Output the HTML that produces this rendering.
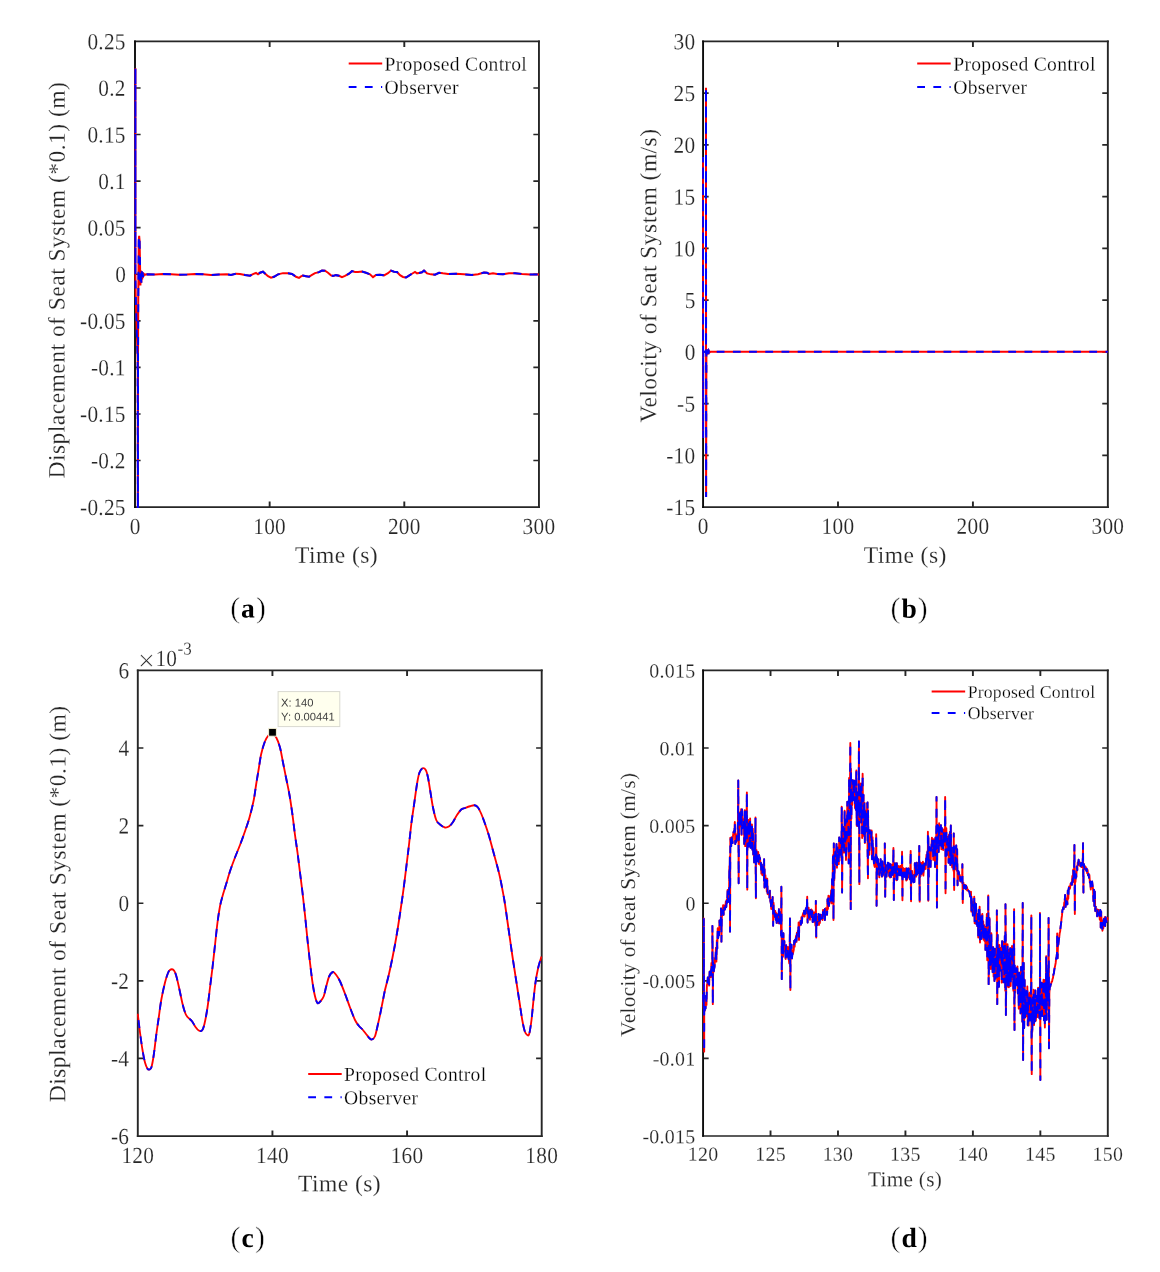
<!DOCTYPE html>
<html><head><meta charset="utf-8"><title>Figure</title>
<style>html,body{margin:0;padding:0;background:#fff;}body{width:1160px;height:1272px;overflow:hidden;font-family:"Liberation Serif", serif;}svg{display:block;}</style>
</head><body>
<svg width="1160" height="1272" viewBox="0 0 1160 1272" font-family='"Liberation Serif", serif' style="will-change:transform" text-rendering="geometricPrecision">
<rect width="1160" height="1272" fill="#fff"/>
<defs>
<clipPath id="ca"><rect x="134.1" y="40.5" width="405.75" height="467.5"/></clipPath>
<clipPath id="cb"><rect x="702.17" y="40.5" width="406.58" height="467.45"/></clipPath>
<clipPath id="cc"><rect x="136.9" y="669.5" width="405.7" height="467.45"/></clipPath>
<clipPath id="cd"><rect x="702.17" y="669.5" width="406.53" height="467.43"/></clipPath>
</defs>
<g stroke="#262626" fill="none" stroke-linecap="butt">
<path d="M134.05 41.4H539.9M134.05 507.1H539.9M135 460.53h5.6M538.95 460.53h-5.6M135 413.96h5.6M538.95 413.96h-5.6M135 367.39h5.6M538.95 367.39h-5.6M135 320.82h5.6M538.95 320.82h-5.6M135 274.25h5.6M538.95 274.25h-5.6M135 227.68h5.6M538.95 227.68h-5.6M135 181.11h5.6M538.95 181.11h-5.6M135 134.54h5.6M538.95 134.54h-5.6M135 87.97h5.6M538.95 87.97h-5.6" stroke-width="1.65"/>
<path d="M538.95 40.57V507.93M269.65 507.1v-5.6M269.65 41.4v5.6M404.3 507.1v-5.6M404.3 41.4v5.6" stroke-width="1.9"/>
<path d="M135 40.57V507.93" stroke="#0c0c0c" stroke-width="1.9"/>
</g>
<g clip-path="url(#ca)" fill="none" stroke-width="2" stroke-linejoin="miter">
<path d="M135.4 274.25L135.4 68.3L135.4 274.25L135.8 300L137.7 360L137.9 540.95L138 360L138.25 300L138.75 241L139.15 235.8L139.6 241L140.4 285.5L140.9 270.5L141.3 282.7L141.8 271.3L142.2 279.5L142.6 272.3L143 277.2L143.3 273L143.8 275.5L144.5 274.3L145.2 274.6L147 274.35L155 274.55L163 274.05L171 274.35L179 274.85L187 274.55L195 273.95L203 274.25L211 275.05L219 274.55L227 274.25L231 274.95L236 273.65L240 273.95L245 275.05L250 275.75L253 274.15L256 272.95L258 274.35L260 272.75L263 271.75L265 273.55L268 276.15L271 277.75L274 276.75L278 274.35L283 273.15L288 273.25L292 273.95L296 276.75L299 277.95L301 276.35L303 275.55L306 276.15L309 276.75L312 274.95L315 273.15L319 272.15L322 270.55L325 270.75L328 272.75L331 275.35L333 275.95L336 275.15L339 275.75L342 277.15L345 275.95L349 273.75L352 271.15L355 271.95L358 271.95L362 271.55L366 272.75L370 274.35L373 277.15L376 274.95L380 274.75L384 275.35L388 273.15L391 270.55L394 271.75L397 271.95L400 275.15L403 276.95L406 277.55L409 275.55L412 273.75L415 271.95L417 273.35L419 272.95L422 272.35L424 270.55L427 273.35L431 274.35L435 274.75L439 272.75L443 273.35L448 273.95L456 273.75L464 274.35L472 274.95L478 274.15L484 272.55L487 272.75L489 273.95L493 273.35L497 273.95L503 274.35L509 273.35L515 273.15L522 273.95L530 274.55L538 274.45L539 274.55" stroke="#ff0000"/>
<path d="M135.4 274.25L135.4 68.3L135.4 274.25L135.8 300L137.7 360L137.9 540.95L138 360L138.25 300L138.75 241L139.15 235.8L139.6 241L140.4 285.5L140.9 270.5L141.3 282.7L141.8 271.3L142.2 279.5L142.6 272.3L143 277.2L143.3 273L143.8 275.5L144.5 274.3L145.2 274.6L147 274.35L155 274.55L163 274.05L171 274.35L179 274.85L187 274.55L195 273.95L203 274.25L211 275.05L219 274.55L227 274.25L231 274.95L236 273.65L240 273.95L245 275.05L250 275.75L253 274.15L256 272.95L258 274.35L260 272.75L263 271.75L265 273.55L268 276.15L271 277.75L274 276.75L278 274.35L283 273.15L288 273.25L292 273.95L296 276.75L299 277.95L301 276.35L303 275.55L306 276.15L309 276.75L312 274.95L315 273.15L319 272.15L322 270.55L325 270.75L328 272.75L331 275.35L333 275.95L336 275.15L339 275.75L342 277.15L345 275.95L349 273.75L352 271.15L355 271.95L358 271.95L362 271.55L366 272.75L370 274.35L373 277.15L376 274.95L380 274.75L384 275.35L388 273.15L391 270.55L394 271.75L397 271.95L400 275.15L403 276.95L406 277.55L409 275.55L412 273.75L415 271.95L417 273.35L419 272.95L422 272.35L424 270.55L427 273.35L431 274.35L435 274.75L439 272.75L443 273.35L448 273.95L456 273.75L464 274.35L472 274.95L478 274.15L484 272.55L487 272.75L489 273.95L493 273.35L497 273.95L503 274.35L509 273.35L515 273.15L522 273.95L530 274.55L538 274.45L539 274.55" stroke="#0000ff" stroke-dasharray="8 8.3" stroke-dashoffset="5.55"/>
</g>
<text font-size="21.3" text-anchor="end" fill="#262626" transform="translate(125.8 49.25) rotate(0.03) scale(1 1.08)" letter-spacing="0.28" stroke="#fff" stroke-width="0.16">0.25</text>
<text font-size="21.3" text-anchor="end" fill="#262626" transform="translate(125.8 95.82) rotate(0.03) scale(1 1.08)" letter-spacing="0.28" stroke="#fff" stroke-width="0.16">0.2</text>
<text font-size="21.3" text-anchor="end" fill="#262626" transform="translate(125.8 142.39) rotate(0.03) scale(1 1.08)" letter-spacing="0.28" stroke="#fff" stroke-width="0.16">0.15</text>
<text font-size="21.3" text-anchor="end" fill="#262626" transform="translate(125.8 188.96) rotate(0.03) scale(1 1.08)" letter-spacing="0.28" stroke="#fff" stroke-width="0.16">0.1</text>
<text font-size="21.3" text-anchor="end" fill="#262626" transform="translate(125.8 235.53) rotate(0.03) scale(1 1.08)" letter-spacing="0.28" stroke="#fff" stroke-width="0.16">0.05</text>
<text font-size="21.3" text-anchor="end" fill="#262626" transform="translate(125.8 282.1) rotate(0.03) scale(1 1.08)" stroke="#fff" stroke-width="0.16">0</text>
<text font-size="21.3" text-anchor="end" fill="#262626" transform="translate(125.8 328.67) rotate(0.03) scale(1 1.08)" letter-spacing="0.28" stroke="#fff" stroke-width="0.16">-0.05</text>
<text font-size="21.3" text-anchor="end" fill="#262626" transform="translate(125.8 375.24) rotate(0.03) scale(1 1.08)" letter-spacing="0.28" stroke="#fff" stroke-width="0.16">-0.1</text>
<text font-size="21.3" text-anchor="end" fill="#262626" transform="translate(125.8 421.81) rotate(0.03) scale(1 1.08)" letter-spacing="0.28" stroke="#fff" stroke-width="0.16">-0.15</text>
<text font-size="21.3" text-anchor="end" fill="#262626" transform="translate(125.8 468.38) rotate(0.03) scale(1 1.08)" letter-spacing="0.28" stroke="#fff" stroke-width="0.16">-0.2</text>
<text font-size="21.3" text-anchor="end" fill="#262626" transform="translate(125.8 514.95) rotate(0.03) scale(1 1.08)" letter-spacing="0.28" stroke="#fff" stroke-width="0.16">-0.25</text>
<text font-size="21.3" text-anchor="middle" fill="#262626" transform="translate(135 533.9) rotate(0.03) scale(1 1.08)" stroke="#fff" stroke-width="0.16">0</text>
<text font-size="21.3" text-anchor="middle" fill="#262626" transform="translate(269.65 533.9) rotate(0.03) scale(1 1.08)" letter-spacing="0.28" stroke="#fff" stroke-width="0.16">100</text>
<text font-size="21.3" text-anchor="middle" fill="#262626" transform="translate(404.3 533.9) rotate(0.03) scale(1 1.08)" letter-spacing="0.28" stroke="#fff" stroke-width="0.16">200</text>
<text font-size="21.3" text-anchor="middle" fill="#262626" transform="translate(538.95 533.9) rotate(0.03) scale(1 1.08)" letter-spacing="0.28" stroke="#fff" stroke-width="0.16">300</text>
<text font-size="23.5" text-anchor="middle" fill="#262626" transform="translate(336.3 562.65) rotate(0.03)" textLength="82.7" lengthAdjust="spacing" stroke="#fff" stroke-width="0.16">Time (s)</text>
<text font-size="23.5" text-anchor="middle" fill="#262626" transform="translate(64.6 280.3) rotate(-89.97)" textLength="396.4" lengthAdjust="spacing" stroke="#fff" stroke-width="0.16">Displacement of Seat System (*0.1) (m)</text>
<path d="M348.7 63.6h33.5" stroke="#ff0000" stroke-width="2" fill="none"/>
<path d="M348.7 86.9h33.5" stroke="#0000ff" stroke-width="2" fill="none" stroke-dasharray="7.8 8.35"/>
<text font-size="19.6" text-anchor="start" fill="#000" transform="translate(384.6 70.4) rotate(0.03)" textLength="142.2" lengthAdjust="spacing" stroke="#fff" stroke-width="0.22">Proposed Control</text>
<text font-size="19.6" text-anchor="start" fill="#000" transform="translate(384.6 93.7) rotate(0.03)" textLength="73.9" lengthAdjust="spacing" stroke="#fff" stroke-width="0.22">Observer</text>
<text transform="translate(248 617.5) rotate(0.03)" font-size="27.6" text-anchor="middle" fill="#000"><tspan font-size="29.7" stroke="#fff" stroke-width="0.5">(</tspan><tspan font-weight="bold" dx="1.1">a</tspan><tspan font-size="29.7" stroke="#fff" stroke-width="0.5" dx="1.1">)</tspan></text>
<g stroke="#262626" fill="none" stroke-linecap="butt">
<path d="M702.12 41.4H1108.8M702.12 507.05H1108.8M703.07 455.31h5.6M1107.85 455.31h-5.6M703.07 403.57h5.6M1107.85 403.57h-5.6M703.07 351.83h5.6M1107.85 351.83h-5.6M703.07 300.09h5.6M1107.85 300.09h-5.6M703.07 248.36h5.6M1107.85 248.36h-5.6M703.07 196.62h5.6M1107.85 196.62h-5.6M703.07 144.88h5.6M1107.85 144.88h-5.6M703.07 93.14h5.6M1107.85 93.14h-5.6" stroke-width="1.65"/>
<path d="M1107.85 40.57V507.88M838 507.05v-5.6M838 41.4v5.6M972.92 507.05v-5.6M972.92 41.4v5.6" stroke-width="1.9"/>
<path d="M703.07 40.57V507.88" stroke="#0c0c0c" stroke-width="1.9"/>
</g>
<g clip-path="url(#cb)" fill="none" stroke-width="2" stroke-linejoin="miter">
<path d="M703 351.83L703 157L703.05 351.83L705.42 351.83L703.05 351.83L703.1 438.1L703.2 351.83L706.43 351.83L706 351.83L706 87.7L706.05 351.83L707.7 351.83L706.05 351.83L706.1 497.1L706.4 351.83L706.9 349.4L707.4 354.7L707.9 350.3L708.4 354L708.9 351L709.5 352.3L710.5 351.83L1107.85 351.83" stroke="#ff0000"/>
<path d="M703 351.83L703 157L703.05 351.83L705.42 351.83L703.05 351.83L703.1 438.1L703.2 351.83L706.43 351.83L706 351.83L706 87.7L706.05 351.83L707.7 351.83L706.05 351.83L706.1 497.1L706.4 351.83L706.9 349.4L707.4 354.7L707.9 350.3L708.4 354L708.9 351L709.5 352.3L710.5 351.83L1107.85 351.83" stroke="#0000ff" stroke-dasharray="7.8 8.4" stroke-dashoffset="5.16"/>
</g>
<text font-size="21.3" text-anchor="end" fill="#262626" transform="translate(695.37 514.9) rotate(0.03) scale(1 1.08)" letter-spacing="0.28" stroke="#fff" stroke-width="0.16">-15</text>
<text font-size="21.3" text-anchor="end" fill="#262626" transform="translate(695.37 463.16) rotate(0.03) scale(1 1.08)" letter-spacing="0.28" stroke="#fff" stroke-width="0.16">-10</text>
<text font-size="21.3" text-anchor="end" fill="#262626" transform="translate(695.37 411.42) rotate(0.03) scale(1 1.08)" letter-spacing="0.28" stroke="#fff" stroke-width="0.16">-5</text>
<text font-size="21.3" text-anchor="end" fill="#262626" transform="translate(695.37 359.68) rotate(0.03) scale(1 1.08)" stroke="#fff" stroke-width="0.16">0</text>
<text font-size="21.3" text-anchor="end" fill="#262626" transform="translate(695.37 307.94) rotate(0.03) scale(1 1.08)" stroke="#fff" stroke-width="0.16">5</text>
<text font-size="21.3" text-anchor="end" fill="#262626" transform="translate(695.37 256.21) rotate(0.03) scale(1 1.08)" letter-spacing="0.28" stroke="#fff" stroke-width="0.16">10</text>
<text font-size="21.3" text-anchor="end" fill="#262626" transform="translate(695.37 204.47) rotate(0.03) scale(1 1.08)" letter-spacing="0.28" stroke="#fff" stroke-width="0.16">15</text>
<text font-size="21.3" text-anchor="end" fill="#262626" transform="translate(695.37 152.73) rotate(0.03) scale(1 1.08)" letter-spacing="0.28" stroke="#fff" stroke-width="0.16">20</text>
<text font-size="21.3" text-anchor="end" fill="#262626" transform="translate(695.37 100.99) rotate(0.03) scale(1 1.08)" letter-spacing="0.28" stroke="#fff" stroke-width="0.16">25</text>
<text font-size="21.3" text-anchor="end" fill="#262626" transform="translate(695.37 49.25) rotate(0.03) scale(1 1.08)" letter-spacing="0.28" stroke="#fff" stroke-width="0.16">30</text>
<text font-size="21.3" text-anchor="middle" fill="#262626" transform="translate(703.07 533.85) rotate(0.03) scale(1 1.08)" stroke="#fff" stroke-width="0.16">0</text>
<text font-size="21.3" text-anchor="middle" fill="#262626" transform="translate(838 533.85) rotate(0.03) scale(1 1.08)" letter-spacing="0.28" stroke="#fff" stroke-width="0.16">100</text>
<text font-size="21.3" text-anchor="middle" fill="#262626" transform="translate(972.92 533.85) rotate(0.03) scale(1 1.08)" letter-spacing="0.28" stroke="#fff" stroke-width="0.16">200</text>
<text font-size="21.3" text-anchor="middle" fill="#262626" transform="translate(1107.85 533.85) rotate(0.03) scale(1 1.08)" letter-spacing="0.28" stroke="#fff" stroke-width="0.16">300</text>
<text font-size="23.5" text-anchor="middle" fill="#262626" transform="translate(905 562.65) rotate(0.03)" textLength="82.7" lengthAdjust="spacing" stroke="#fff" stroke-width="0.16">Time (s)</text>
<text font-size="23.5" text-anchor="middle" fill="#262626" transform="translate(656.2 275.7) rotate(-89.97)" textLength="293.5" lengthAdjust="spacing" stroke="#fff" stroke-width="0.16">Velocity of Seat System (m/s)</text>
<path d="M917.2 63.6h33.5" stroke="#ff0000" stroke-width="2" fill="none"/>
<path d="M917.2 86.9h33.5" stroke="#0000ff" stroke-width="2" fill="none" stroke-dasharray="7.8 8.35"/>
<text font-size="19.6" text-anchor="start" fill="#000" transform="translate(953.2 70.4) rotate(0.03)" textLength="142.2" lengthAdjust="spacing" stroke="#fff" stroke-width="0.22">Proposed Control</text>
<text font-size="19.6" text-anchor="start" fill="#000" transform="translate(953.2 93.7) rotate(0.03)" textLength="73.9" lengthAdjust="spacing" stroke="#fff" stroke-width="0.22">Observer</text>
<text transform="translate(909.05 617.7) rotate(0.03)" font-size="27.6" text-anchor="middle" fill="#000"><tspan font-size="29.7" stroke="#fff" stroke-width="0.5">(</tspan><tspan font-weight="bold" dx="1.1">b</tspan><tspan font-size="29.7" stroke="#fff" stroke-width="0.5" dx="1.1">)</tspan></text>
<g stroke="#262626" fill="none" stroke-linecap="butt">
<path d="M136.85 670.4H542.65M136.85 1136.05H542.65M137.8 748.01h5.6M541.7 748.01h-5.6M137.8 825.62h5.6M541.7 825.62h-5.6M137.8 903.22h5.6M541.7 903.22h-5.6M137.8 980.83h5.6M541.7 980.83h-5.6M137.8 1058.44h5.6M541.7 1058.44h-5.6" stroke-width="1.65"/>
<path d="M541.7 669.57V1136.88M137.8 669.57V1136.88M272.43 1136.05v-5.6M272.43 670.4v5.6M407.07 1136.05v-5.6M407.07 670.4v5.6" stroke-width="1.9"/>
</g>
<g clip-path="url(#cc)" fill="none" stroke-width="1.85" stroke-linejoin="round">
<path d="M137.75 1013.75C138.12 1016.88 139.21 1026.46 140 1032.5C140.79 1038.54 141.67 1045 142.5 1050C143.33 1055 144.17 1059.38 145 1062.5C145.83 1065.62 146.75 1067.58 147.5 1068.75C148.25 1069.92 148.83 1069.79 149.5 1069.5C150.17 1069.21 150.79 1069.42 151.5 1067C152.21 1064.58 152.96 1060.33 153.75 1055C154.54 1049.67 155.42 1041.25 156.25 1035C157.08 1028.75 157.92 1023.33 158.75 1017.5C159.58 1011.67 160.21 1005.83 161.25 1000C162.29 994.17 163.88 987 165 982.5C166.12 978 167.17 975.08 168 973C168.83 970.92 169.33 970.62 170 970C170.67 969.38 171.33 969.17 172 969.25C172.67 969.33 173.33 969.54 174 970.5C174.67 971.46 175.21 972.38 176 975C176.79 977.62 177.67 981.46 178.75 986.25C179.83 991.04 181.38 999.17 182.5 1003.75C183.62 1008.33 184.58 1011.46 185.5 1013.75C186.42 1016.04 186.92 1016.25 188 1017.5C189.08 1018.75 190.75 1019.67 192 1021.25C193.25 1022.83 194.38 1025.46 195.5 1027C196.62 1028.54 197.67 1029.92 198.75 1030.5C199.83 1031.08 201.04 1031.62 202 1030.5C202.96 1029.38 203.58 1027.58 204.5 1023.75C205.42 1019.92 206.58 1013.54 207.5 1007.5C208.42 1001.46 209.17 994.17 210 987.5C210.83 980.83 211.67 974.58 212.5 967.5C213.33 960.42 214.17 952.5 215 945C215.83 937.5 216.67 928.96 217.5 922.5C218.33 916.04 219.17 910.62 220 906.25C220.83 901.88 221.46 900 222.5 896.25C223.54 892.5 225 887.92 226.25 883.75C227.5 879.58 228.54 875.62 230 871.25C231.46 866.88 233.33 861.88 235 857.5C236.67 853.12 238.33 849.38 240 845C241.67 840.62 243.42 835.83 245 831.25C246.58 826.67 248.04 822.71 249.5 817.5C250.96 812.29 252.62 805.62 253.75 800C254.88 794.38 255.42 788.96 256.25 783.75C257.08 778.54 257.92 773.75 258.75 768.75C259.58 763.75 260.21 758.33 261.25 753.75C262.29 749.17 263.75 744.38 265 741.25C266.25 738.12 267.58 736.38 268.75 735C269.92 733.62 270.75 732.58 272 733C273.25 733.42 274.92 735.08 276.25 737.5C277.58 739.92 278.88 743.33 280 747.5C281.12 751.67 281.96 757.29 283 762.5C284.04 767.71 285.17 773.33 286.25 778.75C287.33 784.17 288.46 788.96 289.5 795C290.54 801.04 291.58 808.33 292.5 815C293.42 821.67 294.17 828.75 295 835C295.83 841.25 296.67 846.25 297.5 852.5C298.33 858.75 299.17 865.83 300 872.5C300.83 879.17 301.67 885.42 302.5 892.5C303.33 899.58 304.17 907.08 305 915C305.83 922.92 306.67 932.08 307.5 940C308.33 947.92 309.17 955.42 310 962.5C310.83 969.58 311.67 976.88 312.5 982.5C313.33 988.12 314.17 992.83 315 996.25C315.83 999.67 316.58 1002.17 317.5 1003C318.42 1003.83 319.46 1002.38 320.5 1001.25C321.54 1000.12 322.79 998.75 323.75 996.25C324.71 993.75 325.33 989.58 326.25 986.25C327.17 982.92 328.12 978.62 329.25 976.25C330.38 973.88 331.83 972.21 333 972C334.17 971.79 335.08 973.46 336.25 975C337.42 976.54 338.54 978.12 340 981.25C341.46 984.38 343.33 989.38 345 993.75C346.67 998.12 348.33 1003.12 350 1007.5C351.67 1011.88 353.54 1016.96 355 1020C356.46 1023.04 357.5 1024.17 358.75 1025.75C360 1027.33 361.25 1028.08 362.5 1029.5C363.75 1030.92 365.08 1032.79 366.25 1034.25C367.42 1035.71 368.54 1037.38 369.5 1038.25C370.46 1039.12 371.08 1039.83 372 1039.5C372.92 1039.17 374.08 1038.46 375 1036.25C375.92 1034.04 376.67 1029.79 377.5 1026.25C378.33 1022.71 379.17 1018.96 380 1015C380.83 1011.04 381.67 1006.67 382.5 1002.5C383.33 998.33 383.96 994.58 385 990C386.04 985.42 387.5 980.42 388.75 975C390 969.58 391.25 963.75 392.5 957.5C393.75 951.25 395 944.79 396.25 937.5C397.5 930.21 398.75 922.08 400 913.75C401.25 905.42 402.58 896.25 403.75 887.5C404.92 878.75 406.08 868.75 407 861.25C407.92 853.75 408.5 848.96 409.25 842.5C410 836.04 410.71 828.75 411.5 822.5C412.29 816.25 413.04 811.67 414 805C414.96 798.33 416.33 787.92 417.25 782.5C418.17 777.08 418.62 774.88 419.5 772.5C420.38 770.12 421.46 768.67 422.5 768.25C423.54 767.83 424.83 768.46 425.75 770C426.67 771.54 427.21 773.75 428 777.5C428.79 781.25 429.67 787.5 430.5 792.5C431.33 797.5 432.04 802.92 433 807.5C433.96 812.08 435.08 817.17 436.25 820C437.42 822.83 438.54 823.25 440 824.5C441.46 825.75 443.46 827.21 445 827.5C446.54 827.79 447.92 827.17 449.25 826.25C450.58 825.33 451.71 823.88 453 822C454.29 820.12 455.62 817.08 457 815C458.38 812.92 459.92 810.67 461.25 809.5C462.58 808.33 463.54 808.54 465 808C466.46 807.46 468.42 806.71 470 806.25C471.58 805.79 473.17 805.04 474.5 805.25C475.83 805.46 476.88 806.08 478 807.5C479.12 808.92 480.08 811.04 481.25 813.75C482.42 816.46 483.75 820.21 485 823.75C486.25 827.29 487.5 830.83 488.75 835C490 839.17 491.25 844.17 492.5 848.75C493.75 853.33 495.04 857.92 496.25 862.5C497.46 867.08 498.71 871.67 499.75 876.25C500.79 880.83 501.67 885.62 502.5 890C503.33 894.38 503.96 897.5 504.75 902.5C505.54 907.5 506.42 914.17 507.25 920C508.08 925.83 508.92 931.67 509.75 937.5C510.58 943.33 511.42 949.38 512.25 955C513.08 960.62 513.92 965.83 514.75 971.25C515.58 976.67 516.42 982.08 517.25 987.5C518.08 992.92 518.92 998.33 519.75 1003.75C520.58 1009.17 521.42 1015.42 522.25 1020C523.08 1024.58 523.92 1028.75 524.75 1031.25C525.58 1033.75 526.5 1034.58 527.25 1035C528 1035.42 528.54 1036.25 529.25 1033.75C529.96 1031.25 530.79 1025.62 531.5 1020C532.21 1014.38 532.83 1006.25 533.5 1000C534.17 993.75 534.71 987.92 535.5 982.5C536.29 977.08 537.25 971.83 538.25 967.5C539.25 963.17 540.96 958.33 541.5 956.5" stroke="#ff0000"/>
<path d="M137.75 1013.75C138.12 1016.88 139.21 1026.46 140 1032.5C140.79 1038.54 141.67 1045 142.5 1050C143.33 1055 144.17 1059.38 145 1062.5C145.83 1065.62 146.75 1067.58 147.5 1068.75C148.25 1069.92 148.83 1069.79 149.5 1069.5C150.17 1069.21 150.79 1069.42 151.5 1067C152.21 1064.58 152.96 1060.33 153.75 1055C154.54 1049.67 155.42 1041.25 156.25 1035C157.08 1028.75 157.92 1023.33 158.75 1017.5C159.58 1011.67 160.21 1005.83 161.25 1000C162.29 994.17 163.88 987 165 982.5C166.12 978 167.17 975.08 168 973C168.83 970.92 169.33 970.62 170 970C170.67 969.38 171.33 969.17 172 969.25C172.67 969.33 173.33 969.54 174 970.5C174.67 971.46 175.21 972.38 176 975C176.79 977.62 177.67 981.46 178.75 986.25C179.83 991.04 181.38 999.17 182.5 1003.75C183.62 1008.33 184.58 1011.46 185.5 1013.75C186.42 1016.04 186.92 1016.25 188 1017.5C189.08 1018.75 190.75 1019.67 192 1021.25C193.25 1022.83 194.38 1025.46 195.5 1027C196.62 1028.54 197.67 1029.92 198.75 1030.5C199.83 1031.08 201.04 1031.62 202 1030.5C202.96 1029.38 203.58 1027.58 204.5 1023.75C205.42 1019.92 206.58 1013.54 207.5 1007.5C208.42 1001.46 209.17 994.17 210 987.5C210.83 980.83 211.67 974.58 212.5 967.5C213.33 960.42 214.17 952.5 215 945C215.83 937.5 216.67 928.96 217.5 922.5C218.33 916.04 219.17 910.62 220 906.25C220.83 901.88 221.46 900 222.5 896.25C223.54 892.5 225 887.92 226.25 883.75C227.5 879.58 228.54 875.62 230 871.25C231.46 866.88 233.33 861.88 235 857.5C236.67 853.12 238.33 849.38 240 845C241.67 840.62 243.42 835.83 245 831.25C246.58 826.67 248.04 822.71 249.5 817.5C250.96 812.29 252.62 805.62 253.75 800C254.88 794.38 255.42 788.96 256.25 783.75C257.08 778.54 257.92 773.75 258.75 768.75C259.58 763.75 260.21 758.33 261.25 753.75C262.29 749.17 263.75 744.38 265 741.25C266.25 738.12 267.58 736.38 268.75 735C269.92 733.62 270.75 732.58 272 733C273.25 733.42 274.92 735.08 276.25 737.5C277.58 739.92 278.88 743.33 280 747.5C281.12 751.67 281.96 757.29 283 762.5C284.04 767.71 285.17 773.33 286.25 778.75C287.33 784.17 288.46 788.96 289.5 795C290.54 801.04 291.58 808.33 292.5 815C293.42 821.67 294.17 828.75 295 835C295.83 841.25 296.67 846.25 297.5 852.5C298.33 858.75 299.17 865.83 300 872.5C300.83 879.17 301.67 885.42 302.5 892.5C303.33 899.58 304.17 907.08 305 915C305.83 922.92 306.67 932.08 307.5 940C308.33 947.92 309.17 955.42 310 962.5C310.83 969.58 311.67 976.88 312.5 982.5C313.33 988.12 314.17 992.83 315 996.25C315.83 999.67 316.58 1002.17 317.5 1003C318.42 1003.83 319.46 1002.38 320.5 1001.25C321.54 1000.12 322.79 998.75 323.75 996.25C324.71 993.75 325.33 989.58 326.25 986.25C327.17 982.92 328.12 978.62 329.25 976.25C330.38 973.88 331.83 972.21 333 972C334.17 971.79 335.08 973.46 336.25 975C337.42 976.54 338.54 978.12 340 981.25C341.46 984.38 343.33 989.38 345 993.75C346.67 998.12 348.33 1003.12 350 1007.5C351.67 1011.88 353.54 1016.96 355 1020C356.46 1023.04 357.5 1024.17 358.75 1025.75C360 1027.33 361.25 1028.08 362.5 1029.5C363.75 1030.92 365.08 1032.79 366.25 1034.25C367.42 1035.71 368.54 1037.38 369.5 1038.25C370.46 1039.12 371.08 1039.83 372 1039.5C372.92 1039.17 374.08 1038.46 375 1036.25C375.92 1034.04 376.67 1029.79 377.5 1026.25C378.33 1022.71 379.17 1018.96 380 1015C380.83 1011.04 381.67 1006.67 382.5 1002.5C383.33 998.33 383.96 994.58 385 990C386.04 985.42 387.5 980.42 388.75 975C390 969.58 391.25 963.75 392.5 957.5C393.75 951.25 395 944.79 396.25 937.5C397.5 930.21 398.75 922.08 400 913.75C401.25 905.42 402.58 896.25 403.75 887.5C404.92 878.75 406.08 868.75 407 861.25C407.92 853.75 408.5 848.96 409.25 842.5C410 836.04 410.71 828.75 411.5 822.5C412.29 816.25 413.04 811.67 414 805C414.96 798.33 416.33 787.92 417.25 782.5C418.17 777.08 418.62 774.88 419.5 772.5C420.38 770.12 421.46 768.67 422.5 768.25C423.54 767.83 424.83 768.46 425.75 770C426.67 771.54 427.21 773.75 428 777.5C428.79 781.25 429.67 787.5 430.5 792.5C431.33 797.5 432.04 802.92 433 807.5C433.96 812.08 435.08 817.17 436.25 820C437.42 822.83 438.54 823.25 440 824.5C441.46 825.75 443.46 827.21 445 827.5C446.54 827.79 447.92 827.17 449.25 826.25C450.58 825.33 451.71 823.88 453 822C454.29 820.12 455.62 817.08 457 815C458.38 812.92 459.92 810.67 461.25 809.5C462.58 808.33 463.54 808.54 465 808C466.46 807.46 468.42 806.71 470 806.25C471.58 805.79 473.17 805.04 474.5 805.25C475.83 805.46 476.88 806.08 478 807.5C479.12 808.92 480.08 811.04 481.25 813.75C482.42 816.46 483.75 820.21 485 823.75C486.25 827.29 487.5 830.83 488.75 835C490 839.17 491.25 844.17 492.5 848.75C493.75 853.33 495.04 857.92 496.25 862.5C497.46 867.08 498.71 871.67 499.75 876.25C500.79 880.83 501.67 885.62 502.5 890C503.33 894.38 503.96 897.5 504.75 902.5C505.54 907.5 506.42 914.17 507.25 920C508.08 925.83 508.92 931.67 509.75 937.5C510.58 943.33 511.42 949.38 512.25 955C513.08 960.62 513.92 965.83 514.75 971.25C515.58 976.67 516.42 982.08 517.25 987.5C518.08 992.92 518.92 998.33 519.75 1003.75C520.58 1009.17 521.42 1015.42 522.25 1020C523.08 1024.58 523.92 1028.75 524.75 1031.25C525.58 1033.75 526.5 1034.58 527.25 1035C528 1035.42 528.54 1036.25 529.25 1033.75C529.96 1031.25 530.79 1025.62 531.5 1020C532.21 1014.38 532.83 1006.25 533.5 1000C534.17 993.75 534.71 987.92 535.5 982.5C536.29 977.08 537.25 971.83 538.25 967.5C539.25 963.17 540.96 958.33 541.5 956.5" stroke="#0000ff" stroke-dasharray="7.8 8.4" stroke-dashoffset="9.7"/>
</g>
<text font-size="21.3" text-anchor="end" fill="#262626" transform="translate(129.2 678.25) rotate(0.03) scale(1 1.08)" stroke="#fff" stroke-width="0.16">6</text>
<text font-size="21.3" text-anchor="end" fill="#262626" transform="translate(129.2 755.86) rotate(0.03) scale(1 1.08)" stroke="#fff" stroke-width="0.16">4</text>
<text font-size="21.3" text-anchor="end" fill="#262626" transform="translate(129.2 833.47) rotate(0.03) scale(1 1.08)" stroke="#fff" stroke-width="0.16">2</text>
<text font-size="21.3" text-anchor="end" fill="#262626" transform="translate(129.2 911.07) rotate(0.03) scale(1 1.08)" stroke="#fff" stroke-width="0.16">0</text>
<text font-size="21.3" text-anchor="end" fill="#262626" transform="translate(129.2 988.68) rotate(0.03) scale(1 1.08)" letter-spacing="0.28" stroke="#fff" stroke-width="0.16">-2</text>
<text font-size="21.3" text-anchor="end" fill="#262626" transform="translate(129.2 1066.29) rotate(0.03) scale(1 1.08)" letter-spacing="0.28" stroke="#fff" stroke-width="0.16">-4</text>
<text font-size="21.3" text-anchor="end" fill="#262626" transform="translate(129.2 1143.9) rotate(0.03) scale(1 1.08)" letter-spacing="0.28" stroke="#fff" stroke-width="0.16">-6</text>
<text font-size="21.3" text-anchor="middle" fill="#262626" transform="translate(137.8 1162.95) rotate(0.03) scale(1 1.08)" letter-spacing="0.28" stroke="#fff" stroke-width="0.16">120</text>
<text font-size="21.3" text-anchor="middle" fill="#262626" transform="translate(272.43 1162.95) rotate(0.03) scale(1 1.08)" letter-spacing="0.28" stroke="#fff" stroke-width="0.16">140</text>
<text font-size="21.3" text-anchor="middle" fill="#262626" transform="translate(407.07 1162.95) rotate(0.03) scale(1 1.08)" letter-spacing="0.28" stroke="#fff" stroke-width="0.16">160</text>
<text font-size="21.3" text-anchor="middle" fill="#262626" transform="translate(541.7 1162.95) rotate(0.03) scale(1 1.08)" letter-spacing="0.28" stroke="#fff" stroke-width="0.16">180</text>
<text font-size="29.7" text-anchor="start" fill="#262626" transform="translate(138 670.4) rotate(0.03)" stroke="#fff" stroke-width="0.45">&#215;</text>
<text font-size="21.3" text-anchor="start" fill="#262626" transform="translate(155.4 665.9) rotate(0.03) scale(1 1.08)" letter-spacing="0.28" stroke="#fff" stroke-width="0.16">10</text>
<text font-size="17" text-anchor="start" fill="#262626" transform="translate(177.4 654.6) rotate(0.03) scale(1 1.06)" letter-spacing="0.28" stroke="#fff" stroke-width="0.16">-3</text>
<text font-size="23.5" text-anchor="middle" fill="#262626" transform="translate(339.3 1191.3) rotate(0.03)" textLength="82.7" lengthAdjust="spacing" stroke="#fff" stroke-width="0.16">Time (s)</text>
<text font-size="23.5" text-anchor="middle" fill="#262626" transform="translate(65.4 904.05) rotate(-89.97)" textLength="396.5" lengthAdjust="spacing" stroke="#fff" stroke-width="0.16">Displacement of Seat System (*0.1) (m)</text>
<path d="M308.2 1074h33.5" stroke="#ff0000" stroke-width="2" fill="none"/>
<path d="M308.2 1097.35h33.5" stroke="#0000ff" stroke-width="2" fill="none" stroke-dasharray="7.8 8.35"/>
<text font-size="19.6" text-anchor="start" fill="#000" transform="translate(344.1 1080.8) rotate(0.03)" textLength="142" lengthAdjust="spacing" stroke="#fff" stroke-width="0.22">Proposed Control</text>
<text font-size="19.6" text-anchor="start" fill="#000" transform="translate(344.1 1104.15) rotate(0.03)" textLength="73.9" lengthAdjust="spacing" stroke="#fff" stroke-width="0.22">Observer</text>
<rect x="278.1" y="691.6" width="61.7" height="35" fill="#ffffee" stroke="#d9d9d0" stroke-width="1"/>
<text font-size="11.2" text-anchor="start" fill="#404040" font-family='"Liberation Sans", sans-serif' transform="translate(281.1 706.5) rotate(0.03)">X: 140</text>
<text font-size="11.2" text-anchor="start" fill="#404040" font-family='"Liberation Sans", sans-serif' transform="translate(281.1 720.4) rotate(0.03)">Y: 0.00441</text>
<rect x="268.6" y="728.4" width="7.8" height="7.8" fill="#000" stroke="#f4f1d6" stroke-width="1"/>
<text transform="translate(247.7 1246.9) rotate(0.03)" font-size="27.6" text-anchor="middle" fill="#000"><tspan font-size="29.7" stroke="#fff" stroke-width="0.5">(</tspan><tspan font-weight="bold" dx="1.1">c</tspan><tspan font-size="29.7" stroke="#fff" stroke-width="0.5" dx="1.1">)</tspan></text>
<g stroke="#262626" fill="none" stroke-linecap="butt">
<path d="M702.12 670.4H1108.75M702.12 1136.03H1108.75M703.07 748h5.6M1107.8 748h-5.6M703.07 825.61h5.6M1107.8 825.61h-5.6M703.07 903.21h5.6M1107.8 903.21h-5.6M703.07 980.82h5.6M1107.8 980.82h-5.6M703.07 1058.42h5.6M1107.8 1058.42h-5.6" stroke-width="1.65"/>
<path d="M1107.8 669.57V1136.86M770.53 1136.03v-5.6M770.53 670.4v5.6M837.98 1136.03v-5.6M837.98 670.4v5.6M905.43 1136.03v-5.6M905.43 670.4v5.6M972.89 1136.03v-5.6M972.89 670.4v5.6M1040.35 1136.03v-5.6M1040.35 670.4v5.6" stroke-width="1.9"/>
<path d="M703.07 669.57V1136.86" stroke="#0c0c0c" stroke-width="1.9"/>
</g>
<g clip-path="url(#cd)" fill="none" stroke-width="1.9" stroke-linejoin="round">
<path d="M702.87 994.29L703.32 1003.31L703.77 1008.81L703.78 918.33L704.18 1051.67L704.22 1004.79L704.67 1011.06L705.12 1007.29L705.57 1008.59L706.02 995.76L706.47 1004.89L706.92 984.77L707.37 984.27L707.82 977.43L708.27 984.03L708.72 979L709.17 985.58L709.62 971.79L710.07 973.1L710.52 970.96L710.97 976.99L711.42 962.92L711.87 970.71L712.32 961.58L712.4 925.83L712.77 968.67L712.8 1004.17L713.22 963.01L713.67 971.9L714.12 968.79L714.57 966.8L715.02 957.83L715.47 959.72L715.92 947.74L716.37 961.61L716.82 940.27L717.27 948.36L717.72 928.27L718.17 938.04L718.62 928.89L719.07 935.34L719.52 920.37L719.97 929.42L720.42 922.22L720.87 920.09L721.02 908.33L721.32 917.19L721.42 941.67L721.77 918.84L722.22 910.11L722.67 913.49L723.12 905.15L723.57 914.79L724.02 905.43L724.47 909.91L724.92 909.26L725.37 907.24L725.82 901.57L726.27 906.98L726.72 899.8L727.17 903.09L727.62 889.98L728.07 901.96L728.52 896.95L728.97 899.52L729.42 866.02L729.64 883.33L729.87 856.47L730.04 931.67L730.32 837.77L730.77 840.37L731.22 846.11L731.67 837.49L732.12 841.42L732.57 843.09L733.02 835.53L733.47 832.25L733.92 831.18L734.37 832.67L734.82 821.92L735.27 844.06L735.72 836.24L736.17 841.9L736.62 840.7L737.07 833.95L737.52 835.21L737.97 819.77L738.26 780.5L738.42 811.95L738.66 883.33L738.87 840.63L739.32 814.8L739.77 824.68L740.22 812.32L740.67 826.41L741.12 809.24L741.57 834.87L742.02 809.33L742.47 828.28L742.92 827L743.37 827.23L743.82 818.83L744.27 844.09L744.72 810.09L745.17 846.14L745.62 823.99L746.07 836.35L746.52 820.81L746.88 792.5L746.97 845.81L747.28 889.67L747.42 822.17L747.87 836.41L748.32 820.02L748.77 846.49L749.22 829.52L749.67 842.64L750.12 818.46L750.57 847.75L751.02 847.57L751.47 838.64L751.92 824.34L752.37 849.65L752.82 828.79L753.27 854.48L753.72 850.06L754.17 862.42L754.62 842.32L755.07 857.06L755.5 817.5L755.52 841.93L755.9 898.33L755.97 856.56L756.42 849.92L756.87 858.23L757.32 853.34L757.77 861.15L758.22 852.06L758.67 863.86L759.12 855L759.57 858.7L760.02 857.95L760.47 865.47L760.92 862.75L761.37 873.62L761.82 864.35L762.27 874.95L762.72 868.73L763.17 875.4L763.62 866.89L764.07 880.78L764.12 859.17L764.52 887.5L764.52 869.14L764.97 884.16L765.42 875.21L765.87 886.25L766.32 878.52L766.77 891.52L767.22 878.58L767.67 894.19L768.12 894.3L768.57 894.48L769.02 892.27L769.47 897.66L769.92 890.71L770.37 901.09L770.82 903.07L771.27 908.98L771.72 899.97L772.17 908.37L772.62 896.93L772.74 901.67L773.07 909.36L773.14 925.83L773.52 902.76L773.97 911.92L774.42 913.66L774.87 917.03L775.32 910.96L775.77 919.78L776.22 912.87L776.67 922.86L777.12 914.06L777.57 918.47L778.02 919.2L778.47 923.23L778.92 909.18L779.37 923.18L779.82 911.86L780.27 922.98L780.72 916.25L781.17 935.69L781.36 886.67L781.62 922.63L781.76 979.17L782.07 943.74L782.52 937.34L782.97 956.85L783.42 933.27L783.87 945.42L784.32 940.93L784.77 951.44L785.22 950.81L785.67 958.95L786.12 945.25L786.57 951.03L787.02 956.64L787.47 952.56L787.92 946.9L788.37 957.81L788.82 959.7L789.27 963.35L789.72 948.24L789.98 918.33L790.17 959.22L790.38 990L790.62 945.49L791.07 958.04L791.52 944.64L791.97 958.42L792.42 953.24L792.87 953.91L793.32 951.83L793.77 949.75L794.22 940.74L794.67 946.61L795.12 939.65L795.57 941.82L796.02 935.86L796.47 941.85L796.92 932.59L797.37 935.32L797.82 930.65L798.27 932.84L798.6 922.5L798.72 926.65L799 940L799.17 927.52L799.62 924.05L800.07 923.55L800.52 920.96L800.97 924.69L801.42 917.09L801.87 922.84L802.32 916.28L802.77 915.14L803.22 913.02L803.67 916.1L804.12 910.76L804.57 916.6L805.02 911.6L805.47 913.77L805.92 908.12L806.37 912.42L806.82 907.46L807.22 896.67L807.27 910L807.62 922.5L807.72 909.59L808.17 913.64L808.62 907.61L809.07 917.81L809.52 915.27L809.97 919.7L810.42 909.89L810.87 911.97L811.32 909.43L811.77 916.96L812.22 910.34L812.67 921.98L813.12 912.7L813.57 921.6L814.02 912.31L814.47 916.3L814.92 917.55L815.37 925.48L815.82 922.87L815.84 900.83L816.24 937.5L816.27 922.73L816.72 917.38L817.17 925.03L817.62 916.74L818.07 918.2L818.52 913.85L818.97 924.97L819.42 917.61L819.87 923.02L820.32 914.68L820.77 919.04L821.22 915.02L821.67 917.75L822.12 918.39L822.57 919.98L823.02 910L823.47 916.25L823.92 915.25L824.37 913.85L824.46 910L824.82 909.07L824.86 920L825.27 913.29L825.72 908.16L826.17 911.29L826.62 912.25L827.07 914.83L827.52 899.27L827.97 908.86L828.42 895.68L828.87 906.04L829.32 902.56L829.77 901.64L830.22 895.86L830.67 900.76L831.12 890.53L831.57 903.38L832.02 879.08L832.47 903.06L832.92 857.9L833.08 855L833.37 861.85L833.48 920L833.82 843.33L834.27 880.29L834.72 864.92L835.17 852.27L835.62 851.54L836.07 864.42L836.52 843.91L836.97 867.73L837.42 847.46L837.87 853.84L838.32 850.28L838.77 864.29L839.22 837.36L839.67 848.15L840.12 854.54L840.57 844.4L841.02 838.96L841.47 860.47L841.7 806.67L841.92 824.85L842.1 892.5L842.37 853.56L842.82 826.75L843.27 843.41L843.72 850.92L844.17 852.64L844.62 810.67L845.07 844.79L845.52 819.44L845.97 859.98L846.42 844.43L846.87 835.48L847.32 801.71L847.77 816.11L848.22 806.3L848.67 863.38L849.12 778.07L849.57 810.75L850.02 784.3L850.32 743L850.47 847.69L850.72 909.17L850.92 768.77L851.37 818.66L851.82 788.33L852.27 804.98L852.72 780.25L853.17 799.97L853.62 780.63L854.07 792.25L854.52 780.72L854.97 808.02L855.42 805.85L855.87 809.68L856.32 770.41L856.77 825.88L857.22 792.22L857.67 825.7L858.12 807.69L858.57 813.98L858.94 741.33L859.02 791.64L859.34 884.17L859.47 818.56L859.92 805.3L860.37 809.5L860.82 783.49L861.27 822.5L861.72 784.03L862.17 838.01L862.62 773.81L863.07 822.32L863.52 794.88L863.97 835.9L864.42 802.62L864.87 843.04L865.32 810.42L865.77 832.02L866.22 827.63L866.67 831.25L867.12 803.88L867.56 802.5L867.57 848.64L867.96 878.33L868.02 810.2L868.47 841.04L868.92 845.18L869.37 854.7L869.82 830.27L870.27 839.84L870.72 837.17L871.17 837.84L871.62 830.57L872.07 859.34L872.52 837.31L872.97 857.38L873.42 847.87L873.87 862.12L874.32 865.47L874.77 866.93L875.22 865.67L875.67 859.94L876.12 851.17L876.18 834.17L876.57 870.47L876.58 905.83L877.02 857.43L877.47 873.94L877.92 858.83L878.37 869.35L878.82 863.55L879.27 877.28L879.72 872.88L880.17 871.94L880.62 859.08L881.07 872.76L881.52 864.15L881.97 876.44L882.42 861.56L882.87 875.79L883.32 863.03L883.77 872.28L884.22 872.21L884.67 871.5L884.8 843.33L885.12 870.37L885.2 896.67L885.57 870.41L886.02 865.3L886.47 876.66L886.92 870.63L887.37 871.07L887.82 862.58L888.27 872.21L888.72 863.32L889.17 876.39L889.62 872.75L890.07 877.44L890.52 864.15L890.97 876.95L891.42 866.85L891.87 872.75L892.32 864.58L892.77 874.89L893.22 865.38L893.42 848L893.67 878.35L893.82 900L894.12 875.4L894.57 876.06L895.02 863.32L895.47 872.98L895.92 869.18L896.37 880.33L896.82 863.3L897.27 879.59L897.72 868.5L898.17 867.63L898.62 866.09L899.07 874.85L899.52 869.57L899.97 875.23L900.42 865.83L900.87 873.5L901.32 865.71L901.77 875.85L902.04 851.67L902.22 864.9L902.44 900.33L902.67 871.36L903.12 867.99L903.57 869.27L904.02 869.83L904.47 876.89L904.92 868.82L905.37 876.25L905.82 868.53L906.27 880.55L906.72 868.56L907.17 879.61L907.62 871.37L908.07 877.39L908.52 868.39L908.97 870.46L909.42 871.48L909.87 879.26L910.32 870.99L910.66 850.83L910.77 877.29L911.06 901.33L911.22 870.64L911.67 878.54L912.12 871.04L912.57 880.79L913.02 874.77L913.47 882.26L913.92 875.69L914.37 881.99L914.82 863.15L915.27 867.86L915.72 863.61L916.17 876.65L916.62 862.67L917.07 874.5L917.52 864.81L917.97 873.15L918.42 862.46L918.87 871.9L919.28 845.83L919.32 873.8L919.68 901.67L919.77 865.06L920.22 862.44L920.67 875.96L921.12 863.43L921.57 873.69L922.02 862.6L922.47 869.57L922.92 861.59L923.37 875.56L923.82 869.72L924.27 863.7L924.72 863.58L925.17 868.39L925.62 869.06L926.07 861.06L926.52 854.6L926.97 859.52L927.42 851.72L927.87 849.96L927.9 831.67L928.3 900.83L928.32 836.65L928.77 876.65L929.22 846.93L929.67 865.89L930.12 861.22L930.57 866.87L931.02 848.9L931.47 845.77L931.92 837.6L932.37 846.11L932.82 842.67L933.27 859.87L933.72 839.09L934.17 854.71L934.62 841.16L935.07 866.9L935.52 837.47L935.97 850.59L936.42 824.57L936.52 797L936.87 861.78L936.92 907.5L937.32 824.87L937.77 843.14L938.22 825.77L938.67 852.02L939.12 823.26L939.57 845.27L940.02 842.33L940.47 832.34L940.92 825.18L941.37 849.24L941.82 828.07L942.27 835.22L942.72 840.21L943.17 850.08L943.62 829.43L944.07 843.63L944.52 845.39L944.97 842.3L945.14 797L945.42 835.51L945.54 893.33L945.87 846.39L946.32 828.29L946.77 854.97L947.22 836.82L947.67 839.27L948.12 838.9L948.57 862.81L949.02 834.45L949.47 849.43L949.92 831.74L950.37 865.09L950.82 825.43L951.27 860.65L951.72 847.64L952.17 867.4L952.62 850.64L953.07 861.51L953.52 870.68L953.76 833.33L953.97 867.76L954.16 890L954.42 847.1L954.87 852.26L955.32 853.5L955.77 869.06L956.22 845.38L956.67 870.6L957.12 849.13L957.57 885.32L958.02 873.98L958.47 871.24L958.92 872.51L959.37 878.86L959.82 875L960.27 881.02L960.72 877.02L961.17 881.89L961.62 878.5L962.07 881.07L962.38 864.17L962.52 882.24L962.78 903L962.97 886.61L963.42 882.8L963.87 888.09L964.32 885.01L964.77 888.29L965.22 884.96L965.67 888.84L966.12 885.72L966.57 889.71L967.02 887.08L967.47 890.58L967.92 889.7L968.37 890.65L968.82 891.06L969.27 891.84L969.72 893.5L970.17 896.51L970.62 891.87L971 891.67L971.07 897.09L971.4 911.67L971.52 896.69L971.97 904.88L972.42 901.89L972.87 915.57L973.32 905.11L973.77 907.75L974.22 896.79L974.67 923.2L975.12 902.95L975.57 913.2L976.02 903.98L976.47 924.33L976.92 916.35L977.37 926.18L977.82 914.01L978.27 937.45L978.72 909.8L979.17 927.45L979.62 906.67L979.62 916.48L980.02 942.5L980.07 935.35L980.52 915.16L980.97 918.86L981.42 938.91L981.87 933.79L982.32 913.84L982.77 935.49L983.22 921.27L983.67 939.73L984.12 924.95L984.57 941.05L985.02 926.8L985.47 949.89L985.92 928.88L986.37 940.65L986.82 913.9L987.27 960.2L987.72 922.83L988.17 925.01L988.24 895.33L988.62 962.14L988.64 984.17L989.07 958.82L989.52 917.95L989.97 966.64L990.42 941.73L990.87 968.99L991.32 933.28L991.77 964.18L992.22 946.97L992.67 972.17L993.12 947.28L993.57 976.37L994.02 949.21L994.47 981.11L994.92 948.78L995.37 978.63L995.82 962.58L996.27 969.2L996.72 968.07L996.86 910.33L997.17 972.01L997.26 1004.17L997.62 934.87L998.07 967.66L998.52 955.6L998.97 986.78L999.42 944.85L999.87 970.44L1000.32 956.9L1000.77 955.8L1001.22 947.62L1001.67 982.66L1002.12 941.14L1002.57 966.17L1003.02 947.64L1003.47 982.21L1003.92 941.64L1004.37 976.87L1004.82 935.83L1005.27 990.77L1005.48 904.17L1005.72 935.39L1005.88 1015L1006.17 987.65L1006.62 953.71L1007.07 974.01L1007.52 944.16L1007.97 986.86L1008.42 954.61L1008.87 987.24L1009.32 949.71L1009.77 978.05L1010.22 948.24L1010.67 986.01L1011.12 966.18L1011.57 979.34L1012.02 946.02L1012.47 979.1L1012.92 955.32L1013.37 990.73L1013.82 948.4L1014.1 909.17L1014.27 990.69L1014.5 1030L1014.72 965.66L1015.17 992.46L1015.62 969.97L1016.07 971.91L1016.52 968.3L1016.97 984.99L1017.42 966.39L1017.87 993.59L1018.32 972.42L1018.77 1008.64L1019.22 972.66L1019.67 997.93L1020.12 975.28L1020.57 1013.39L1021.02 967.03L1021.47 1000.32L1021.92 972.5L1022.37 1021.62L1022.72 903L1022.82 971.6L1023.12 1060L1023.27 981.79L1023.72 962.85L1024.17 1028.02L1024.62 979.88L1025.07 1017.42L1025.52 994.63L1025.97 1013.54L1026.42 990.93L1026.87 1016.38L1027.32 986.46L1027.77 1025.25L1028.22 996.4L1028.67 1025.48L1029.12 994.4L1029.57 992.67L1030.02 996.09L1030.47 1020L1030.92 1005.28L1031.34 915.33L1031.37 1013.66L1031.74 1074.17L1031.82 1010.74L1032.27 1031.94L1032.72 997.35L1033.17 1023.31L1033.62 989.69L1034.07 1025.08L1034.52 997.36L1034.97 1021.31L1035.42 990.53L1035.87 1020.61L1036.32 1008.24L1036.77 995.95L1037.22 1010.01L1037.67 1017.05L1038.12 987.59L1038.57 1006.18L1039.02 989.59L1039.47 1018.33L1039.92 990.28L1039.96 912.83L1040.36 1080L1040.37 989.73L1040.82 984.01L1041.27 1008.59L1041.72 982.69L1042.17 1015.99L1042.62 991.67L1043.07 993.05L1043.52 979.71L1043.97 1020.34L1044.42 980.23L1044.87 1027.49L1045.32 980L1045.77 1015.74L1046.22 956.27L1046.67 1019.76L1047.12 968.93L1047.57 1005L1048.02 969.59L1048.47 995.61L1048.58 918L1048.92 981.42L1048.98 1048.33L1049.37 993.24L1049.82 986.18L1050.27 986.45L1050.72 984.63L1051.17 983.64L1051.62 981.71L1052.07 981.66L1052.52 979.2L1052.97 978.03L1053.42 974.48L1053.87 973.33L1054.32 969.65L1054.77 967.53L1055.22 965.34L1055.67 962.95L1056.12 958.54L1056.57 956.99L1057.02 952.62L1057.2 933.33L1057.47 950.58L1057.6 958.33L1057.92 946.53L1058.37 944.27L1058.82 940.14L1059.27 936.93L1059.72 932.94L1060.17 931.17L1060.62 926.56L1061.07 923.71L1061.52 918.59L1061.97 915.67L1062.42 910.03L1062.87 909.42L1063.32 907.24L1063.77 908.83L1064.22 902.71L1064.67 901.83L1065.12 894.92L1065.57 906.87L1066.02 898.11L1066.47 904.41L1066.92 901.52L1067.37 904.41L1067.82 890.35L1068.27 898.8L1068.72 888.41L1069.17 886.55L1069.62 889.02L1070.07 888.1L1070.52 883.82L1070.97 883.99L1071.42 882.54L1071.87 884.91L1072.32 875.89L1072.77 882L1073.22 869.57L1073.67 876.98L1074.12 867.88L1074.44 844.9L1074.57 874.37L1074.84 914L1075.02 880.6L1075.47 881.96L1075.92 874.23L1076.37 876.98L1076.82 866.33L1077.27 870.19L1077.72 862.47L1078.17 864.84L1078.62 859.76L1079.07 863.3L1079.52 861.86L1079.97 865.89L1080.42 863.4L1080.87 866.48L1081.32 862.9L1081.77 867.17L1082.22 863.39L1082.67 865.03L1083.06 843.3L1083.12 864.39L1083.46 892.5L1083.57 867.06L1084.02 864.23L1084.47 868.63L1084.92 866.27L1085.37 869.39L1085.82 867.12L1086.27 870.6L1086.72 868.73L1087.17 873.27L1087.62 870.03L1088.07 875.13L1088.52 873.78L1088.97 877.75L1089.42 874.94L1089.87 882.4L1090.32 881.46L1090.77 889.51L1091.22 881.91L1091.67 882.1L1092.12 881.55L1092.57 885.41L1093.02 888.9L1093.47 901.23L1093.92 889.59L1094.37 905.98L1094.82 891.49L1095.27 910.97L1095.72 906.75L1096.17 910.04L1096.62 910.16L1097.07 916.23L1097.52 909.41L1097.97 910.54L1098.42 909.9L1098.87 915.75L1099.32 912.2L1099.77 919.65L1100.22 910.51L1100.3 910L1100.67 915.55L1100.7 927.5L1101.12 911.34L1101.57 919.92L1102.02 920.43L1102.47 930.74L1102.92 926.83L1103.37 928.08L1103.82 919.03L1104.27 922.02L1104.72 917.08L1105.17 926.03L1105.62 917.13L1106.07 922.24L1106.52 921.51L1106.97 918.37L1107.42 920.68L1107.87 917.2" stroke="#ff0000"/>
<path d="M702.87 994.29L703.32 1003.31L703.77 1008.81L703.78 918.33L704.18 1051.67L704.22 1004.79L704.67 1011.06L705.12 1007.29L705.57 1008.59L706.02 995.76L706.47 1004.89L706.92 984.77L707.37 984.27L707.82 977.43L708.27 984.03L708.72 979L709.17 985.58L709.62 971.79L710.07 973.1L710.52 970.96L710.97 976.99L711.42 962.92L711.87 970.71L712.32 961.58L712.4 925.83L712.77 968.67L712.8 1004.17L713.22 963.01L713.67 971.9L714.12 968.79L714.57 966.8L715.02 957.83L715.47 959.72L715.92 947.74L716.37 961.61L716.82 940.27L717.27 948.36L717.72 928.27L718.17 938.04L718.62 928.89L719.07 935.34L719.52 920.37L719.97 929.42L720.42 922.22L720.87 920.09L721.02 908.33L721.32 917.19L721.42 941.67L721.77 918.84L722.22 910.11L722.67 913.49L723.12 905.15L723.57 914.79L724.02 905.43L724.47 909.91L724.92 909.26L725.37 907.24L725.82 901.57L726.27 906.98L726.72 899.8L727.17 903.09L727.62 889.98L728.07 901.96L728.52 896.95L728.97 899.52L729.42 866.02L729.64 883.33L729.87 856.47L730.04 931.67L730.32 837.77L730.77 840.37L731.22 846.11L731.67 837.49L732.12 841.42L732.57 843.09L733.02 835.53L733.47 832.25L733.92 831.18L734.37 832.67L734.82 821.92L735.27 844.06L735.72 836.24L736.17 841.9L736.62 840.7L737.07 833.95L737.52 835.21L737.97 819.77L738.26 780.5L738.42 811.95L738.66 883.33L738.87 840.63L739.32 814.8L739.77 824.68L740.22 812.32L740.67 826.41L741.12 809.24L741.57 834.87L742.02 809.33L742.47 828.28L742.92 827L743.37 827.23L743.82 818.83L744.27 844.09L744.72 810.09L745.17 846.14L745.62 823.99L746.07 836.35L746.52 820.81L746.88 792.5L746.97 845.81L747.28 889.67L747.42 822.17L747.87 836.41L748.32 820.02L748.77 846.49L749.22 829.52L749.67 842.64L750.12 818.46L750.57 847.75L751.02 847.57L751.47 838.64L751.92 824.34L752.37 849.65L752.82 828.79L753.27 854.48L753.72 850.06L754.17 862.42L754.62 842.32L755.07 857.06L755.5 817.5L755.52 841.93L755.9 898.33L755.97 856.56L756.42 849.92L756.87 858.23L757.32 853.34L757.77 861.15L758.22 852.06L758.67 863.86L759.12 855L759.57 858.7L760.02 857.95L760.47 865.47L760.92 862.75L761.37 873.62L761.82 864.35L762.27 874.95L762.72 868.73L763.17 875.4L763.62 866.89L764.07 880.78L764.12 859.17L764.52 887.5L764.52 869.14L764.97 884.16L765.42 875.21L765.87 886.25L766.32 878.52L766.77 891.52L767.22 878.58L767.67 894.19L768.12 894.3L768.57 894.48L769.02 892.27L769.47 897.66L769.92 890.71L770.37 901.09L770.82 903.07L771.27 908.98L771.72 899.97L772.17 908.37L772.62 896.93L772.74 901.67L773.07 909.36L773.14 925.83L773.52 902.76L773.97 911.92L774.42 913.66L774.87 917.03L775.32 910.96L775.77 919.78L776.22 912.87L776.67 922.86L777.12 914.06L777.57 918.47L778.02 919.2L778.47 923.23L778.92 909.18L779.37 923.18L779.82 911.86L780.27 922.98L780.72 916.25L781.17 935.69L781.36 886.67L781.62 922.63L781.76 979.17L782.07 943.74L782.52 937.34L782.97 956.85L783.42 933.27L783.87 945.42L784.32 940.93L784.77 951.44L785.22 950.81L785.67 958.95L786.12 945.25L786.57 951.03L787.02 956.64L787.47 952.56L787.92 946.9L788.37 957.81L788.82 959.7L789.27 963.35L789.72 948.24L789.98 918.33L790.17 959.22L790.38 990L790.62 945.49L791.07 958.04L791.52 944.64L791.97 958.42L792.42 953.24L792.87 953.91L793.32 951.83L793.77 949.75L794.22 940.74L794.67 946.61L795.12 939.65L795.57 941.82L796.02 935.86L796.47 941.85L796.92 932.59L797.37 935.32L797.82 930.65L798.27 932.84L798.6 922.5L798.72 926.65L799 940L799.17 927.52L799.62 924.05L800.07 923.55L800.52 920.96L800.97 924.69L801.42 917.09L801.87 922.84L802.32 916.28L802.77 915.14L803.22 913.02L803.67 916.1L804.12 910.76L804.57 916.6L805.02 911.6L805.47 913.77L805.92 908.12L806.37 912.42L806.82 907.46L807.22 896.67L807.27 910L807.62 922.5L807.72 909.59L808.17 913.64L808.62 907.61L809.07 917.81L809.52 915.27L809.97 919.7L810.42 909.89L810.87 911.97L811.32 909.43L811.77 916.96L812.22 910.34L812.67 921.98L813.12 912.7L813.57 921.6L814.02 912.31L814.47 916.3L814.92 917.55L815.37 925.48L815.82 922.87L815.84 900.83L816.24 937.5L816.27 922.73L816.72 917.38L817.17 925.03L817.62 916.74L818.07 918.2L818.52 913.85L818.97 924.97L819.42 917.61L819.87 923.02L820.32 914.68L820.77 919.04L821.22 915.02L821.67 917.75L822.12 918.39L822.57 919.98L823.02 910L823.47 916.25L823.92 915.25L824.37 913.85L824.46 910L824.82 909.07L824.86 920L825.27 913.29L825.72 908.16L826.17 911.29L826.62 912.25L827.07 914.83L827.52 899.27L827.97 908.86L828.42 895.68L828.87 906.04L829.32 902.56L829.77 901.64L830.22 895.86L830.67 900.76L831.12 890.53L831.57 903.38L832.02 879.08L832.47 903.06L832.92 857.9L833.08 855L833.37 861.85L833.48 920L833.82 843.33L834.27 880.29L834.72 864.92L835.17 852.27L835.62 851.54L836.07 864.42L836.52 843.91L836.97 867.73L837.42 847.46L837.87 853.84L838.32 850.28L838.77 864.29L839.22 837.36L839.67 848.15L840.12 854.54L840.57 844.4L841.02 838.96L841.47 860.47L841.7 806.67L841.92 824.85L842.1 892.5L842.37 853.56L842.82 826.75L843.27 843.41L843.72 850.92L844.17 852.64L844.62 810.67L845.07 844.79L845.52 819.44L845.97 859.98L846.42 844.43L846.87 835.48L847.32 801.71L847.77 816.11L848.22 806.3L848.67 863.38L849.12 778.07L849.57 810.75L850.02 784.3L850.32 743L850.47 847.69L850.72 909.17L850.92 768.77L851.37 818.66L851.82 788.33L852.27 804.98L852.72 780.25L853.17 799.97L853.62 780.63L854.07 792.25L854.52 780.72L854.97 808.02L855.42 805.85L855.87 809.68L856.32 770.41L856.77 825.88L857.22 792.22L857.67 825.7L858.12 807.69L858.57 813.98L858.94 741.33L859.02 791.64L859.34 884.17L859.47 818.56L859.92 805.3L860.37 809.5L860.82 783.49L861.27 822.5L861.72 784.03L862.17 838.01L862.62 773.81L863.07 822.32L863.52 794.88L863.97 835.9L864.42 802.62L864.87 843.04L865.32 810.42L865.77 832.02L866.22 827.63L866.67 831.25L867.12 803.88L867.56 802.5L867.57 848.64L867.96 878.33L868.02 810.2L868.47 841.04L868.92 845.18L869.37 854.7L869.82 830.27L870.27 839.84L870.72 837.17L871.17 837.84L871.62 830.57L872.07 859.34L872.52 837.31L872.97 857.38L873.42 847.87L873.87 862.12L874.32 865.47L874.77 866.93L875.22 865.67L875.67 859.94L876.12 851.17L876.18 834.17L876.57 870.47L876.58 905.83L877.02 857.43L877.47 873.94L877.92 858.83L878.37 869.35L878.82 863.55L879.27 877.28L879.72 872.88L880.17 871.94L880.62 859.08L881.07 872.76L881.52 864.15L881.97 876.44L882.42 861.56L882.87 875.79L883.32 863.03L883.77 872.28L884.22 872.21L884.67 871.5L884.8 843.33L885.12 870.37L885.2 896.67L885.57 870.41L886.02 865.3L886.47 876.66L886.92 870.63L887.37 871.07L887.82 862.58L888.27 872.21L888.72 863.32L889.17 876.39L889.62 872.75L890.07 877.44L890.52 864.15L890.97 876.95L891.42 866.85L891.87 872.75L892.32 864.58L892.77 874.89L893.22 865.38L893.42 848L893.67 878.35L893.82 900L894.12 875.4L894.57 876.06L895.02 863.32L895.47 872.98L895.92 869.18L896.37 880.33L896.82 863.3L897.27 879.59L897.72 868.5L898.17 867.63L898.62 866.09L899.07 874.85L899.52 869.57L899.97 875.23L900.42 865.83L900.87 873.5L901.32 865.71L901.77 875.85L902.04 851.67L902.22 864.9L902.44 900.33L902.67 871.36L903.12 867.99L903.57 869.27L904.02 869.83L904.47 876.89L904.92 868.82L905.37 876.25L905.82 868.53L906.27 880.55L906.72 868.56L907.17 879.61L907.62 871.37L908.07 877.39L908.52 868.39L908.97 870.46L909.42 871.48L909.87 879.26L910.32 870.99L910.66 850.83L910.77 877.29L911.06 901.33L911.22 870.64L911.67 878.54L912.12 871.04L912.57 880.79L913.02 874.77L913.47 882.26L913.92 875.69L914.37 881.99L914.82 863.15L915.27 867.86L915.72 863.61L916.17 876.65L916.62 862.67L917.07 874.5L917.52 864.81L917.97 873.15L918.42 862.46L918.87 871.9L919.28 845.83L919.32 873.8L919.68 901.67L919.77 865.06L920.22 862.44L920.67 875.96L921.12 863.43L921.57 873.69L922.02 862.6L922.47 869.57L922.92 861.59L923.37 875.56L923.82 869.72L924.27 863.7L924.72 863.58L925.17 868.39L925.62 869.06L926.07 861.06L926.52 854.6L926.97 859.52L927.42 851.72L927.87 849.96L927.9 831.67L928.3 900.83L928.32 836.65L928.77 876.65L929.22 846.93L929.67 865.89L930.12 861.22L930.57 866.87L931.02 848.9L931.47 845.77L931.92 837.6L932.37 846.11L932.82 842.67L933.27 859.87L933.72 839.09L934.17 854.71L934.62 841.16L935.07 866.9L935.52 837.47L935.97 850.59L936.42 824.57L936.52 797L936.87 861.78L936.92 907.5L937.32 824.87L937.77 843.14L938.22 825.77L938.67 852.02L939.12 823.26L939.57 845.27L940.02 842.33L940.47 832.34L940.92 825.18L941.37 849.24L941.82 828.07L942.27 835.22L942.72 840.21L943.17 850.08L943.62 829.43L944.07 843.63L944.52 845.39L944.97 842.3L945.14 797L945.42 835.51L945.54 893.33L945.87 846.39L946.32 828.29L946.77 854.97L947.22 836.82L947.67 839.27L948.12 838.9L948.57 862.81L949.02 834.45L949.47 849.43L949.92 831.74L950.37 865.09L950.82 825.43L951.27 860.65L951.72 847.64L952.17 867.4L952.62 850.64L953.07 861.51L953.52 870.68L953.76 833.33L953.97 867.76L954.16 890L954.42 847.1L954.87 852.26L955.32 853.5L955.77 869.06L956.22 845.38L956.67 870.6L957.12 849.13L957.57 885.32L958.02 873.98L958.47 871.24L958.92 872.51L959.37 878.86L959.82 875L960.27 881.02L960.72 877.02L961.17 881.89L961.62 878.5L962.07 881.07L962.38 864.17L962.52 882.24L962.78 903L962.97 886.61L963.42 882.8L963.87 888.09L964.32 885.01L964.77 888.29L965.22 884.96L965.67 888.84L966.12 885.72L966.57 889.71L967.02 887.08L967.47 890.58L967.92 889.7L968.37 890.65L968.82 891.06L969.27 891.84L969.72 893.5L970.17 896.51L970.62 891.87L971 891.67L971.07 897.09L971.4 911.67L971.52 896.69L971.97 904.88L972.42 901.89L972.87 915.57L973.32 905.11L973.77 907.75L974.22 896.79L974.67 923.2L975.12 902.95L975.57 913.2L976.02 903.98L976.47 924.33L976.92 916.35L977.37 926.18L977.82 914.01L978.27 937.45L978.72 909.8L979.17 927.45L979.62 906.67L979.62 916.48L980.02 942.5L980.07 935.35L980.52 915.16L980.97 918.86L981.42 938.91L981.87 933.79L982.32 913.84L982.77 935.49L983.22 921.27L983.67 939.73L984.12 924.95L984.57 941.05L985.02 926.8L985.47 949.89L985.92 928.88L986.37 940.65L986.82 913.9L987.27 960.2L987.72 922.83L988.17 925.01L988.24 895.33L988.62 962.14L988.64 984.17L989.07 958.82L989.52 917.95L989.97 966.64L990.42 941.73L990.87 968.99L991.32 933.28L991.77 964.18L992.22 946.97L992.67 972.17L993.12 947.28L993.57 976.37L994.02 949.21L994.47 981.11L994.92 948.78L995.37 978.63L995.82 962.58L996.27 969.2L996.72 968.07L996.86 910.33L997.17 972.01L997.26 1004.17L997.62 934.87L998.07 967.66L998.52 955.6L998.97 986.78L999.42 944.85L999.87 970.44L1000.32 956.9L1000.77 955.8L1001.22 947.62L1001.67 982.66L1002.12 941.14L1002.57 966.17L1003.02 947.64L1003.47 982.21L1003.92 941.64L1004.37 976.87L1004.82 935.83L1005.27 990.77L1005.48 904.17L1005.72 935.39L1005.88 1015L1006.17 987.65L1006.62 953.71L1007.07 974.01L1007.52 944.16L1007.97 986.86L1008.42 954.61L1008.87 987.24L1009.32 949.71L1009.77 978.05L1010.22 948.24L1010.67 986.01L1011.12 966.18L1011.57 979.34L1012.02 946.02L1012.47 979.1L1012.92 955.32L1013.37 990.73L1013.82 948.4L1014.1 909.17L1014.27 990.69L1014.5 1030L1014.72 965.66L1015.17 992.46L1015.62 969.97L1016.07 971.91L1016.52 968.3L1016.97 984.99L1017.42 966.39L1017.87 993.59L1018.32 972.42L1018.77 1008.64L1019.22 972.66L1019.67 997.93L1020.12 975.28L1020.57 1013.39L1021.02 967.03L1021.47 1000.32L1021.92 972.5L1022.37 1021.62L1022.72 903L1022.82 971.6L1023.12 1060L1023.27 981.79L1023.72 962.85L1024.17 1028.02L1024.62 979.88L1025.07 1017.42L1025.52 994.63L1025.97 1013.54L1026.42 990.93L1026.87 1016.38L1027.32 986.46L1027.77 1025.25L1028.22 996.4L1028.67 1025.48L1029.12 994.4L1029.57 992.67L1030.02 996.09L1030.47 1020L1030.92 1005.28L1031.34 915.33L1031.37 1013.66L1031.74 1074.17L1031.82 1010.74L1032.27 1031.94L1032.72 997.35L1033.17 1023.31L1033.62 989.69L1034.07 1025.08L1034.52 997.36L1034.97 1021.31L1035.42 990.53L1035.87 1020.61L1036.32 1008.24L1036.77 995.95L1037.22 1010.01L1037.67 1017.05L1038.12 987.59L1038.57 1006.18L1039.02 989.59L1039.47 1018.33L1039.92 990.28L1039.96 912.83L1040.36 1080L1040.37 989.73L1040.82 984.01L1041.27 1008.59L1041.72 982.69L1042.17 1015.99L1042.62 991.67L1043.07 993.05L1043.52 979.71L1043.97 1020.34L1044.42 980.23L1044.87 1027.49L1045.32 980L1045.77 1015.74L1046.22 956.27L1046.67 1019.76L1047.12 968.93L1047.57 1005L1048.02 969.59L1048.47 995.61L1048.58 918L1048.92 981.42L1048.98 1048.33L1049.37 993.24L1049.82 986.18L1050.27 986.45L1050.72 984.63L1051.17 983.64L1051.62 981.71L1052.07 981.66L1052.52 979.2L1052.97 978.03L1053.42 974.48L1053.87 973.33L1054.32 969.65L1054.77 967.53L1055.22 965.34L1055.67 962.95L1056.12 958.54L1056.57 956.99L1057.02 952.62L1057.2 933.33L1057.47 950.58L1057.6 958.33L1057.92 946.53L1058.37 944.27L1058.82 940.14L1059.27 936.93L1059.72 932.94L1060.17 931.17L1060.62 926.56L1061.07 923.71L1061.52 918.59L1061.97 915.67L1062.42 910.03L1062.87 909.42L1063.32 907.24L1063.77 908.83L1064.22 902.71L1064.67 901.83L1065.12 894.92L1065.57 906.87L1066.02 898.11L1066.47 904.41L1066.92 901.52L1067.37 904.41L1067.82 890.35L1068.27 898.8L1068.72 888.41L1069.17 886.55L1069.62 889.02L1070.07 888.1L1070.52 883.82L1070.97 883.99L1071.42 882.54L1071.87 884.91L1072.32 875.89L1072.77 882L1073.22 869.57L1073.67 876.98L1074.12 867.88L1074.44 844.9L1074.57 874.37L1074.84 914L1075.02 880.6L1075.47 881.96L1075.92 874.23L1076.37 876.98L1076.82 866.33L1077.27 870.19L1077.72 862.47L1078.17 864.84L1078.62 859.76L1079.07 863.3L1079.52 861.86L1079.97 865.89L1080.42 863.4L1080.87 866.48L1081.32 862.9L1081.77 867.17L1082.22 863.39L1082.67 865.03L1083.06 843.3L1083.12 864.39L1083.46 892.5L1083.57 867.06L1084.02 864.23L1084.47 868.63L1084.92 866.27L1085.37 869.39L1085.82 867.12L1086.27 870.6L1086.72 868.73L1087.17 873.27L1087.62 870.03L1088.07 875.13L1088.52 873.78L1088.97 877.75L1089.42 874.94L1089.87 882.4L1090.32 881.46L1090.77 889.51L1091.22 881.91L1091.67 882.1L1092.12 881.55L1092.57 885.41L1093.02 888.9L1093.47 901.23L1093.92 889.59L1094.37 905.98L1094.82 891.49L1095.27 910.97L1095.72 906.75L1096.17 910.04L1096.62 910.16L1097.07 916.23L1097.52 909.41L1097.97 910.54L1098.42 909.9L1098.87 915.75L1099.32 912.2L1099.77 919.65L1100.22 910.51L1100.3 910L1100.67 915.55L1100.7 927.5L1101.12 911.34L1101.57 919.92L1102.02 920.43L1102.47 930.74L1102.92 926.83L1103.37 928.08L1103.82 919.03L1104.27 922.02L1104.72 917.08L1105.17 926.03L1105.62 917.13L1106.07 922.24L1106.52 921.51L1106.97 918.37L1107.42 920.68L1107.87 917.2" stroke="#0000ff" stroke-dasharray="7.8 8.4" stroke-dashoffset="0"/>
</g>
<text font-size="19.9" text-anchor="end" fill="#262626" transform="translate(695.47 677.6) rotate(0.03)" letter-spacing="0.28" stroke="#fff" stroke-width="0.16">0.015</text>
<text font-size="19.9" text-anchor="end" fill="#262626" transform="translate(695.47 755.21) rotate(0.03)" letter-spacing="0.28" stroke="#fff" stroke-width="0.16">0.01</text>
<text font-size="19.9" text-anchor="end" fill="#262626" transform="translate(695.47 832.81) rotate(0.03)" letter-spacing="0.28" stroke="#fff" stroke-width="0.16">0.005</text>
<text font-size="19.9" text-anchor="end" fill="#262626" transform="translate(695.47 910.41) rotate(0.03)" stroke="#fff" stroke-width="0.16">0</text>
<text font-size="19.9" text-anchor="end" fill="#262626" transform="translate(695.47 988.02) rotate(0.03)" letter-spacing="0.28" stroke="#fff" stroke-width="0.16">-0.005</text>
<text font-size="19.9" text-anchor="end" fill="#262626" transform="translate(695.47 1065.62) rotate(0.03)" letter-spacing="0.28" stroke="#fff" stroke-width="0.16">-0.01</text>
<text font-size="19.9" text-anchor="end" fill="#262626" transform="translate(695.47 1143.23) rotate(0.03)" letter-spacing="0.28" stroke="#fff" stroke-width="0.16">-0.015</text>
<text font-size="19.9" text-anchor="middle" fill="#262626" transform="translate(703.07 1160.63) rotate(0.03)" letter-spacing="0.28" stroke="#fff" stroke-width="0.16">120</text>
<text font-size="19.9" text-anchor="middle" fill="#262626" transform="translate(770.53 1160.63) rotate(0.03)" letter-spacing="0.28" stroke="#fff" stroke-width="0.16">125</text>
<text font-size="19.9" text-anchor="middle" fill="#262626" transform="translate(837.98 1160.63) rotate(0.03)" letter-spacing="0.28" stroke="#fff" stroke-width="0.16">130</text>
<text font-size="19.9" text-anchor="middle" fill="#262626" transform="translate(905.43 1160.63) rotate(0.03)" letter-spacing="0.28" stroke="#fff" stroke-width="0.16">135</text>
<text font-size="19.9" text-anchor="middle" fill="#262626" transform="translate(972.89 1160.63) rotate(0.03)" letter-spacing="0.28" stroke="#fff" stroke-width="0.16">140</text>
<text font-size="19.9" text-anchor="middle" fill="#262626" transform="translate(1040.35 1160.63) rotate(0.03)" letter-spacing="0.28" stroke="#fff" stroke-width="0.16">145</text>
<text font-size="19.9" text-anchor="middle" fill="#262626" transform="translate(1107.8 1160.63) rotate(0.03)" letter-spacing="0.28" stroke="#fff" stroke-width="0.16">150</text>
<text font-size="21.3" text-anchor="middle" fill="#262626" transform="translate(904.9 1186.3) rotate(0.03)" textLength="74" lengthAdjust="spacing" stroke="#fff" stroke-width="0.16">Time (s)</text>
<text font-size="21.3" text-anchor="middle" fill="#262626" transform="translate(635 904.8) rotate(-89.97)" textLength="263.8" lengthAdjust="spacing" stroke="#fff" stroke-width="0.16">Velocity of Seat System (m/s)</text>
<path d="M931.66 691.45h33.5" stroke="#ff0000" stroke-width="2" fill="none"/>
<path d="M931.66 712.9h33.5" stroke="#0000ff" stroke-width="2" fill="none" stroke-dasharray="7.8 8.35"/>
<text font-size="17.7" text-anchor="start" fill="#000" transform="translate(967.7 697.65) rotate(0.03)" textLength="127.4" lengthAdjust="spacing" stroke="#fff" stroke-width="0.22">Proposed Control</text>
<text font-size="17.7" text-anchor="start" fill="#000" transform="translate(967.7 719.1) rotate(0.03)" textLength="66.2" lengthAdjust="spacing" stroke="#fff" stroke-width="0.22">Observer</text>
<text transform="translate(909.05 1246.9) rotate(0.03)" font-size="27.6" text-anchor="middle" fill="#000"><tspan font-size="29.7" stroke="#fff" stroke-width="0.5">(</tspan><tspan font-weight="bold" dx="1.1">d</tspan><tspan font-size="29.7" stroke="#fff" stroke-width="0.5" dx="1.1">)</tspan></text>
</svg>
</body></html>
